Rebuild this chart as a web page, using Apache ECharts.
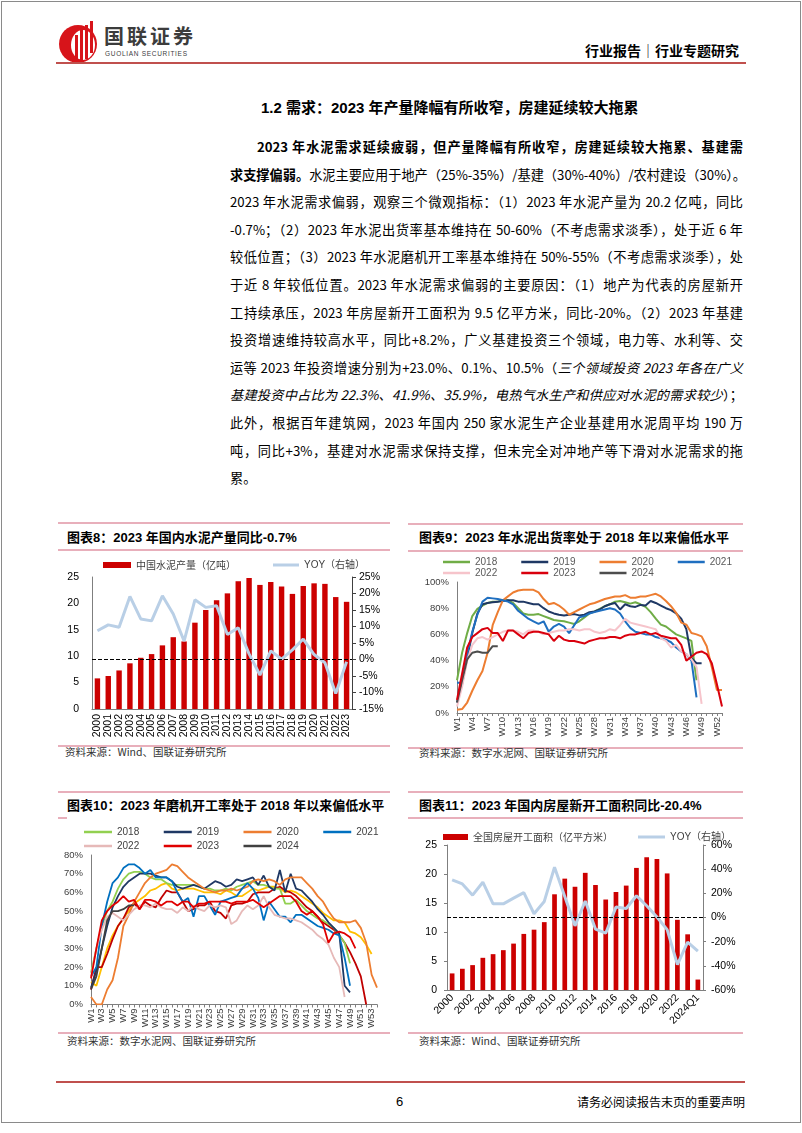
<!DOCTYPE html>
<html><head><meta charset="utf-8">
<script src="https://cdn.jsdelivr.net/npm/echarts@6/dist/echarts.min.js"></script>
<style>
html,body{margin:0;padding:0;background:#fff;}
#page{position:relative;width:802px;height:1133px;overflow:hidden;background:#fff;font-family:'Noto Sans CJK SC',sans-serif;color:#000;}
.abs{position:absolute;}
.p{position:absolute;height:20px;line-height:20px;font-size:13.2px;white-space:nowrap;text-align:justify;text-align-last:justify;color:#000;}
.pink{position:absolute;height:1.5px;background:#E8AFBB;}
.ttl{position:absolute;font-size:13px;font-weight:bold;white-space:nowrap;line-height:18px;font-family:'Liberation Sans','Noto Sans CJK SC',sans-serif;}
.src{position:absolute;font-size:10.5px;color:#333;white-space:nowrap;line-height:14px;}
.chart{position:absolute;}
</style></head>
<body><div id="page">
<div class="abs" style="left:1px;top:1px;width:798px;height:1120px;border:1px solid #8a8a8a;"></div>
<svg class="abs" style="left:58px;top:21px" width="42" height="44" viewBox="0 0 42 44">
<circle cx="20" cy="23" r="19" fill="#D7141A"/>
<ellipse cx="25" cy="24" rx="12" ry="15" fill="#fff"/>
<rect x="17" y="14" width="3" height="24" fill="#D7141A"/>
<rect x="22" y="9" width="3" height="30" fill="#D7141A"/>
<rect x="27" y="4" width="3" height="34" fill="#D7141A"/>
<rect x="32" y="0" width="3" height="32" fill="#D7141A"/>
</svg>
<div class="abs" style="left:104px;top:24px;font-size:20px;font-weight:bold;letter-spacing:3px;color:#3c3c3c;line-height:24px;">国联证券</div>
<div class="abs" style="left:105px;top:50px;font-size:6.5px;letter-spacing:0.7px;color:#3c3c3c;font-family:'Liberation Sans',sans-serif;line-height:8px;">GUOLIAN SECURITIES</div>
<div class="abs" style="left:585px;top:40px;font-size:14px;font-weight:bold;line-height:20px;white-space:nowrap;">行业报告│行业专题研究</div>
<div class="abs" style="left:56px;top:62px;width:690px;height:2px;background:#C0504D;"></div>
<div class="abs" style="left:261px;top:98px;font-size:15px;font-weight:bold;line-height:20px;white-space:nowrap;font-family:'Liberation Sans','Noto Sans CJK SC',sans-serif;">1.2 需求：2023 年产量降幅有所收窄，房建延续较大拖累</div>

<div class="p" style="top:137px;left:257px;width:486px"><b>2023 年水泥需求延续疲弱，但产量降幅有所收窄，房建延续较大拖累、基建需</b></div>
<div class="p" style="top:164.6px;left:230px;width:513px"><b>求支撑偏弱。</b>水泥主要应用于地产（25%-35%）/基建（30%-40%）/农村建设（30%）。</div>
<div class="p" style="top:192.2px;left:230px;width:513px">2023 年水泥需求偏弱，观察三个微观指标：（1）2023 年水泥产量为 20.2 亿吨，同比</div>
<div class="p" style="top:219.8px;left:230px;width:513px">-0.7%；（2）2023 年水泥出货率基本维持在 50-60%（不考虑需求淡季），处于近 6 年</div>
<div class="p" style="top:247.4px;left:230px;width:513px">较低位置；（3）2023 年水泥磨机开工率基本维持在 50%-55%（不考虑需求淡季），处</div>
<div class="p" style="top:275px;left:230px;width:513px">于近 8 年较低位置。2023 年水泥需求偏弱的主要原因：（1）地产为代表的房屋新开</div>
<div class="p" style="top:302.6px;left:230px;width:513px">工持续承压，2023 年房屋新开工面积为 9.5 亿平方米，同比-20%。（2）2023 年基建</div>
<div class="p" style="top:330.2px;left:230px;width:513px">投资增速维持较高水平，同比+8.2%，广义基建投资三个领域，电力等、水利等、交</div>
<div class="p" style="top:357.8px;left:230px;width:513px">运等 2023 年投资增速分别为+23.0%、0.1%、10.5%（<i>三个领域投资 2023 年各在广义</i></div>
<div class="p" style="top:385.4px;left:230px;width:513px"><i>基建投资中占比为 22.3%、41.9%、35.9%，电热气水生产和供应对水泥的需求较少</i>）；</div>
<div class="p" style="top:413px;left:230px;width:513px">此外，根据百年建筑网，2023 年国内 250 家水泥生产企业基建用水泥周平均 190 万</div>
<div class="p" style="top:440.6px;left:230px;width:513px">吨，同比+3%，基建对水泥需求保持支撑，但未完全对冲地产等下滑对水泥需求的拖</div>
<div class="p" style="top:468.2px;left:230px;width:513px;text-align:left;text-align-last:left;">累。</div>

<!-- chart 8 frame -->
<div class="pink" style="left:58px;top:522px;width:332px;"></div>
<div class="ttl" style="left:67px;top:529px;">图表8：2023 年国内水泥产量同比-0.7%</div>
<div class="pink" style="left:58px;top:549px;width:332px;"></div>
<div class="pink" style="left:58px;top:745px;width:332px;"></div>
<div class="src" style="left:65px;top:745px;">资料来源：Wind、国联证券研究所</div>
<!-- chart 9 frame -->
<div class="pink" style="left:408px;top:523px;width:335px;"></div>
<div class="ttl" style="left:419px;top:529px;">图表9：2023 年水泥出货率处于 2018 年以来偏低水平</div>
<div class="pink" style="left:408px;top:550px;width:335px;"></div>
<div class="pink" style="left:408px;top:747px;width:335px;"></div>
<div class="src" style="left:419px;top:746px;">资料来源：数字水泥网、国联证券研究所</div>
<!-- chart 10 frame -->
<div class="pink" style="left:58px;top:791px;width:332px;"></div>
<div class="ttl" style="left:67px;top:797px;">图表10：2023 年磨机开工率处于 2018 年以来偏低水平</div>
<div class="pink" style="left:58px;top:817px;width:9px;"></div>
<div class="pink" style="left:58px;top:1032px;width:332px;"></div>
<div class="src" style="left:67px;top:1034px;">资料来源：数字水泥网、国联证券研究所</div>
<!-- chart 11 frame -->
<div class="pink" style="left:408px;top:791px;width:335px;"></div>
<div class="ttl" style="left:419px;top:797px;">图表11：2023 年国内房屋新开工面积同比-20.4%</div>
<div class="pink" style="left:408px;top:817px;width:335px;"></div>
<div class="pink" style="left:408px;top:1032px;width:335px;"></div>
<div class="src" style="left:419px;top:1034px;">资料来源：Wind、国联证券研究所</div>

<div id="c8" class="chart" style="left:40px;top:552px;width:350px;height:193px;"></div>
<div id="c9" class="chart" style="left:410px;top:552px;width:345px;height:193px;"></div>
<div id="c10" class="chart" style="left:40px;top:818px;width:350px;height:213px;"></div>
<div id="c11" class="chart" style="left:410px;top:818px;width:345px;height:213px;"></div>

<div class="abs" style="left:56px;top:1081px;width:689px;height:2px;background:#C0504D;"></div>
<div class="abs" style="left:396px;top:1093px;font-size:13px;line-height:18px;font-family:'Liberation Sans',sans-serif;">6</div>
<div class="abs" style="left:575px;top:1094px;width:170px;text-align:right;font-size:12px;line-height:16px;white-space:nowrap;">请务必阅读报告末页的重要声明</div>
</div>
<script>
// ---- Chart 8: cement output ----
const years8 = ['2000','2001','2002','2003','2004','2005','2006','2007','2008','2009','2010','2011','2012','2013','2014','2015','2016','2017','2018','2019','2020','2021','2022','2023'];
const cementOutput = [5.8,6.25,7.3,8.65,9.7,10.4,12.05,13.6,12.8,16.35,18.75,20.6,21.9,24.2,24.8,23.5,24.05,23.2,21.8,23.3,23.8,23.7,21.2,20.3];
const cementYoy = [8.7,10.5,9.8,19.1,12.3,11.7,19.3,13.8,5.6,18.1,15.8,16.3,7.6,9.6,1.7,-4.7,2.6,0.1,2.9,6.2,1.5,-1.0,-10.3,-0.7];

// ---- Chart 9: shipment rate (weekly, %) ----
const weeks53 = Array.from({length:53},(_,i)=>'W'+(i+1));
const ship2018 = [25,46,61,74,79.5,82,84,85,85,86,86,84,80,76,75,75,75.5,74,72.5,71,70.5,70,69,68,70,73,76,77.5,79.5,81.5,83,85,85.5,84.5,83.5,84.5,83,81,77,72,67.5,66,63,60,58.5,57,55,25];
const ship2019 = [8,22,42,61,76,83,84,84.5,85,85.5,86,86,85,85,84,83,83,80,77.5,76,75,74.5,75,75.5,74.5,75,77,77.5,79,81.5,83,84,79,83,81.5,81,82.5,82,85.5,84,82,80,78.5,76,72,64,42,38,38];
const ship2020 = [2.5,3,8,17,25,32,46,67,77,86,89,92,93.5,94,94,94,92,87,83,84,82,79,75,77,79,81,83,84,85.5,87,88,89,89,90,88,88,89,89,90,91,89,85.5,81.5,76.5,69,67.5,61,60,58.5,51,35,17.5,17.5];
const ship2021 = [23,23,45,62,75,85,88,87.5,87,86,85,83,78,75,72,70,68,70,62,66,68,66,61,67,73,74,76,77,78,79,80,79,76,70,65,62,61,60,60,58,57,56,54,50,47,45,40,12];
const ship2022 = [5,20,40,52,57,58,56,58,60,62,63,63,62,60,63,63,62,60,61,62,63,63,64,64,63,64,64,62,61,62,64,63,67,72,69,68,67,66,65,64,57,55,50,52,47,45,41,35,7];
const ship2023 = [10,30,50,58,61,64,65,61,61,55,63,63,60,57,61,62,62,61,60,55,59,56,55,55,54,53,55,56,57,57,58,58,57,59,60,60,61,62,60,61,59,58,57,57,52,40,43,46,47,45,38,22,5];
const ship2024 = [8,25,41,46,47,46,46,51,51];

// ---- Chart 10: grinding mill operating rate (weekly, %) ----
const weeks54 = Array.from({length:54},(_,i)=>'W'+(i+1));
const mill2018 = [17,30,42,50,55,62,67,70,71,71,70,68,67,67,65,64,64,64,64,64,63,62,62,61,61,62,61,63,64,65,66,64,64,63,62,62,54,54,56,53,50,48,46,45,43,41,37,33,22];
const mill2019 = [9,18,30,42,52,58,63,66,68,70,70,70,69,68,68,66,63,62,63,64,63,62,64,66,65,63,64,67,66,67,68,64,69,63,61,72,60,70,62,61,58,55,51,48,44,41,38,10,6.5];
const mill2020 = [4,0,0,8,13,25,42,48,55,60,65,68,70,71,72,75,74,71,68,66,64,62,61,60,61,61,62,61,62,63,66,67,66,67,66,64,67,68,68,68,65,62,58,55,50,46,44,44,44,45,41,33,16,9];
const mill2021 = [15,20,42,55,65,68,73,75,75,73,70,72,68,68,68,66,60,55,57,47,58,58,53,48,55,56,57,58,62,65,62,57,45,55,51,47,47,44,48,48,46,44,42,41,40,38,37,25,10];
const mill2022 = [15,30,40,47,49,47,45,48,51,53,53,52,54,52,51,51,49,52,50,53,51,50,53,52,53,52,43,45,50,53,51,53,58,52,48,47,46,46,45,44,42,40,37,35,32,25,20,4];
const mill2023 = [14,30,45,50,53,55,58,55,56,51,56,56,55,53,55,55,53,55,55,52,54,54,55,55,55,55,54,55,55,55,56,54,52,54,56,58,58,58,55,50,48,50,47,43,33,38,39,38,36,30];
const mill2024 = [8,15,30,45,50,50,51,53,53];
const millOtherGold = [12,10,20,30,37,42,46,50,54,56,58,61,62,64,65,62,61,62,62,62,61,60,60,60,59,61,60,58,58,60,62,61,62,63,63,62,60,61,60,58,56,54,52,49,47,45,45,44,39,38,36,32,27];
const millOtherRed = [8,20,20,27,35,42,46,52,54,51,55,53,52,57,61,60,60,55,50,51,53,53,55,50,49,46,53,54,54,55,59,60,60,60,62,63,61,60,58,55,52,50,47,44,42,40,37,33,28,22,15,0];

// ---- Chart 11: housing new starts ----
const cats11 = ['2000','2001','2002','2003','2004','2005','2006','2007','2008','2009','2010','2011','2012','2013','2014','2015','2016','2017','2018','2019','2020','2021','2022','2023','2024Q1'];
const housingStarts = [2.86,3.66,4.29,5.55,6.18,6.87,8.0,9.67,10.4,11.7,16.5,19.2,17.8,20.2,18.1,15.6,16.9,18.0,21.05,22.9,22.6,20.1,12.1,9.6,1.8];
const housingYoy = [31.2,27.8,18.5,29.2,11.3,11.3,16,20.6,3.1,13.3,41.6,17.4,-6.9,13.7,-9.6,-13,8.6,7.5,18,9.7,0.4,-10,-39,-20.4,-27.8];

const FONT = "'Liberation Sans', Arial, 'Noto Sans CJK SC', sans-serif";
const CJK = "'Noto Sans CJK SC', sans-serif";
const AX = '#7f7f7f';

function lineSeries(name, data, color, width, z){
  return {name, type:'line', data, symbol:'none', showSymbol:false, smooth:false,
    lineStyle:{color, width:width||2}, itemStyle:{color}, z:z||2, connectNulls:false};
}

// Chart 8
(function(){
  const c = echarts.init(document.getElementById('c8'));
  c.setOption({
    animation:false, textStyle:{fontFamily:FONT},
    legend:[
      {left:58, top:3, icon:'rect', itemWidth:28, itemHeight:6, itemGap:10, data:['中国水泥产量（亿吨）'], textStyle:{fontSize:10, color:'#404040', fontFamily:CJK}},
      {left:228, top:3, icon:'rect', itemWidth:26, itemHeight:3, data:['YOY（右轴）'], textStyle:{fontSize:10, color:'#404040', fontFamily:FONT}}
    ],
    grid:{left:52, top:25, width:260, height:132},
    xAxis:{type:'category', data:years8, axisLine:{lineStyle:{color:AX}}, axisTick:{show:false},
      axisLabel:{interval:0, rotate:90, fontSize:10.5, color:'#000', margin:5}},
    yAxis:[
      {type:'value', min:0, max:25, interval:5, axisLine:{show:true, lineStyle:{color:AX}}, axisTick:{show:false}, splitLine:{show:false},
        axisLabel:{fontSize:10.5, color:'#000', margin:13}},
      {type:'value', min:-15, max:25, interval:5, position:'right', axisLine:{show:true, lineStyle:{color:'#404040'}}, axisTick:{show:true, length:4, lineStyle:{color:'#404040'}}, splitLine:{show:false},
        axisLabel:{fontSize:10.5, color:'#000', margin:7, formatter:'{value}%'}}
    ],
    series:[
      {name:'中国水泥产量（亿吨）', type:'bar', data:cementOutput, yAxisIndex:0, barWidth:'50%', itemStyle:{color:'#CC0000'}},
      Object.assign(lineSeries('YOY（右轴）', cementYoy, '#B9CFE6', 3, 3), {yAxisIndex:1,
        markLine:{silent:true, symbol:'none', label:{show:false}, lineStyle:{color:'#000', type:'dashed', width:1}, data:[{yAxis:0}]}})
    ]
  });
})();

// Chart 9
(function(){
  const c = echarts.init(document.getElementById('c9'));
  const lg = {icon:'rect', itemWidth:27, itemHeight:2.5, itemGap:24, textStyle:{fontSize:10, color:'#595959', fontFamily:FONT}};
  c.setOption({
    animation:false, textStyle:{fontFamily:FONT},
    legend:[
      Object.assign({left:28, top:0, data:['2018','2019','2020','2021']}, lg),
      Object.assign({left:28, top:11, data:['2022','2023','2024']}, lg)
    ],
    grid:{left:47, top:30, width:265, height:131},
    xAxis:{type:'category', data:weeks53, boundaryGap:false, axisLine:{lineStyle:{color:AX}},
      axisTick:{show:true, interval:0, length:3, lineStyle:{color:AX}},
      axisLabel:{interval:2, rotate:90, fontSize:9.5, color:'#404040', margin:4}},
    yAxis:{type:'value', min:0, max:100, interval:20, axisLine:{show:true, lineStyle:{color:AX}}, axisTick:{show:false}, splitLine:{show:false},
      axisLabel:{fontSize:9.5, color:'#404040', margin:8, formatter:'{value}%'}},
    series:[
      lineSeries('2018', ship2018, '#70AD47', 2),
      lineSeries('2019', ship2019, '#1F3864', 2),
      lineSeries('2020', ship2020, '#ED7D31', 2),
      lineSeries('2021', ship2021, '#1F6FC0', 2),
      lineSeries('2022', ship2022, '#F6C4CB', 2),
      lineSeries('2023', ship2023, '#D9000D', 2, 3),
      lineSeries('2024', ship2024, '#4D4D4D', 2)
    ]
  });
})();

// Chart 10
(function(){
  const c = echarts.init(document.getElementById('c10'));
  const lg = {icon:'rect', itemWidth:28, itemHeight:2.5, itemGap:24.5, textStyle:{fontSize:10, color:'#404040', fontFamily:FONT}};
  c.setOption({
    animation:false, textStyle:{fontFamily:FONT},
    legend:[
      Object.assign({left:39, top:4, data:['2018','2019','2020','2021']}, lg),
      Object.assign({left:39, top:18, data:['2022','2023','2024']}, lg)
    ],
    grid:{left:51, top:37, width:286, height:150},
    xAxis:{type:'category', data:weeks54, boundaryGap:false, axisLine:{lineStyle:{color:AX}},
      axisTick:{show:true, interval:0, length:3, lineStyle:{color:AX}},
      axisLabel:{interval:1, rotate:90, fontSize:9.5, color:'#404040', margin:4}},
    yAxis:{type:'value', min:0, max:80, interval:10, axisLine:{show:true, lineStyle:{color:AX}}, axisTick:{show:false}, splitLine:{show:false},
      axisLabel:{fontSize:9.5, color:'#404040', margin:8, formatter:'{value}%'}},
    series:[
      lineSeries('2017', millOtherGold, '#FFC000', 1.8),
      lineSeries('2016', millOtherRed, '#C00000', 1.8),
      lineSeries('2018', mill2018, '#92D050', 1.8),
      lineSeries('2019', mill2019, '#1F3864', 1.8),
      lineSeries('2020', mill2020, '#ED7D31', 1.8),
      lineSeries('2021', mill2021, '#0070C0', 1.8),
      lineSeries('2022', mill2022, '#E6B9B8', 1.8),
      lineSeries('2023', mill2023, '#E00000', 1.8, 3),
      lineSeries('2024', mill2024, '#404040', 1.8)
    ]
  });
})();

// Chart 11
(function(){
  const c = echarts.init(document.getElementById('c11'));
  c.setOption({
    animation:false, textStyle:{fontFamily:FONT},
    legend:[
      {left:28, top:9, icon:'rect', itemWidth:25, itemHeight:6, data:['全国房屋开工面积（亿平方米）'], textStyle:{fontSize:10, color:'#404040', fontFamily:CJK}},
      {left:223, top:9, icon:'rect', itemWidth:27, itemHeight:3, data:['YOY（右轴）'], textStyle:{fontSize:10, color:'#404040', fontFamily:FONT}}
    ],
    grid:{left:37, top:27, width:256, height:145},
    xAxis:{type:'category', data:cats11, axisLine:{lineStyle:{color:AX}}, axisTick:{show:false},
      axisLabel:{interval:1, rotate:45, fontSize:10.5, color:'#000', margin:6}},
    yAxis:[
      {type:'value', min:0, max:25, interval:5, axisLine:{show:true, lineStyle:{color:AX}}, axisTick:{show:true, length:3, lineStyle:{color:AX}}, splitLine:{show:false},
        axisLabel:{fontSize:10.5, color:'#000', margin:10}},
      {type:'value', min:-60, max:60, interval:20, position:'right', axisLine:{show:true, lineStyle:{color:AX}}, axisTick:{show:true, length:3, lineStyle:{color:AX}}, splitLine:{show:false},
        axisLabel:{fontSize:10.5, color:'#000', margin:8, formatter:'{value}%'}}
    ],
    series:[
      {name:'全国房屋开工面积（亿平方米）', type:'bar', data:housingStarts, yAxisIndex:0, barWidth:'46%', itemStyle:{color:'#CC0000'}},
      Object.assign(lineSeries('YOY（右轴）', housingYoy, '#B9CFE6', 3, 3), {yAxisIndex:1,
        markLine:{silent:true, symbol:'none', label:{show:false}, lineStyle:{color:'#000', type:'dashed', width:1}, data:[{yAxis:0}]}})
    ]
  });
})();
</script>
</body></html>
